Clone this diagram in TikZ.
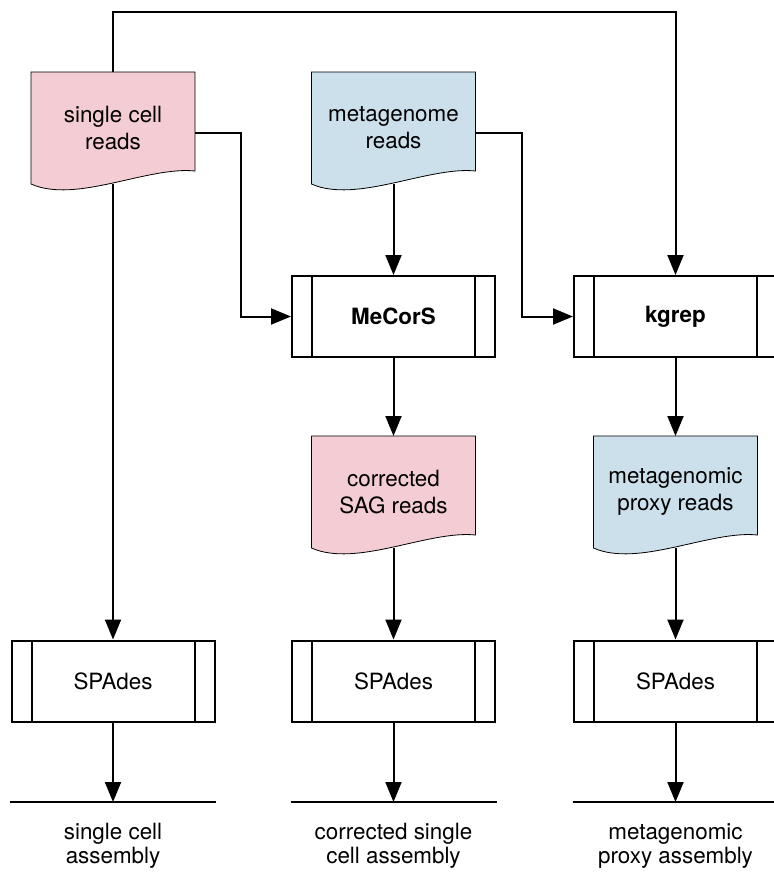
\documentclass[tikz,border=0pt]{standalone}
\usepackage{fontspec}
\setmainfont{TeX Gyre Heros}
\usetikzlibrary{arrows.meta,calc,backgrounds}
\definecolor{readpink}{RGB}{244,205,212}
\definecolor{readblue}{RGB}{204,224,236}
\tikzset{
  doc/.style={minimum width=81pt, minimum height=55pt, inner sep=0pt, align=center,
    font=\fontsize{11.2}{13.5}\selectfont},
  proc/.style={draw, fill=white, minimum width=101.5pt, minimum height=40.5pt, inner sep=0pt,
    font=\fontsize{11.2}{13.5}\selectfont,
    path picture={
      \draw ([xshift=10pt]path picture bounding box.north west) -- ([xshift=10pt]path picture bounding box.south west);
      \draw ([xshift=-10pt]path picture bounding box.north east) -- ([xshift=-10pt]path picture bounding box.south east);
    }},
  outline/.style={minimum width=102pt, minimum height=0pt, inner sep=0pt},
  outlab/.style={align=center, font=\fontsize{11.2}{12}\selectfont},
}
% wavy document outline behind a doc node
\newcommand{\docbody}[2]{%
  \begin{scope}[on background layer]
    \draw[fill=#2] (#1.north west) -- (#1.north east) -- ([yshift=6.5pt]#1.south east)
      .. controls ([xshift=-23.5pt,yshift=9pt]#1.south east) and ([xshift=22.5pt,yshift=-10pt]#1.south west) .. (#1.south west) -- cycle;
  \end{scope}}
\begin{document}
\begin{tikzpicture}[x=0.5pt,y=-0.5pt,line width=1pt,>={Triangle[length=10pt,width=8pt]}]
  \useasboundingbox (0,0) rectangle (773,880);
  % reads
  \node[doc] (reads1) at (113,128) {single cell\\reads}; \docbody{reads1}{readpink}
  \node[doc] (reads2) at (393.5,128) {metagenome\\reads}; \docbody{reads2}{readblue}
  % tools
  \node[proc] (mecors) at (393.5,316.5) {\bfseries MeCorS};
  \node[proc] (kgrep) at (675.5,316.5) {\bfseries kgrep};
  \node[doc] (corr) at (393.5,492) {corrected\\SAG reads}; \docbody{corr}{readpink}
  \node[doc] (proxy) at (675.5,492) {metagenomic\\proxy reads}; \docbody{proxy}{readblue}
  \node[proc] (spades1) at (113,681) {SPAdes};
  \node[proc] (spades2) at (393.5,681) {SPAdes};
  \node[proc] (spades3) at (675.5,681) {SPAdes};
  % assemblies
  \node[outline] (out1) at (113,802) {};
  \node[outline] (out2) at (393.5,802) {};
  \node[outline] (out3) at (675.5,802) {};
  \foreach \i in {1,2,3} \draw (out\i.west) -- (out\i.east);
  \node[outlab] (asm1) at (113,846) {single cell\\assembly};
  \node[outlab] (asm2) at (393.5,846) {corrected single\\cell assembly};
  \node[outlab] (asm3) at (675.5,846) {metagenomic\\proxy assembly};
  % flow
  \draw[->] (reads1.north) -- ++(0,-60) -| (kgrep.north);
  \draw[->] ([yshift=-2.5pt]reads1.east) -| ($(mecors.west)+(-50,0)$) -- (mecors.west);
  \draw[->] ([yshift=-2.5pt]reads2.east) -| ($(kgrep.west)+(-51,0)$) -- (kgrep.west);
  \draw[->] (reads1.south) -- (spades1.north);
  \draw[->] (reads2.south) -- (mecors.north);
  \draw[->] (mecors.south) -- (corr.north);
  \draw[->] (kgrep.south) -- (proxy.north);
  \draw[->] (corr.south) -- (spades2.north);
  \draw[->] (proxy.south) -- (spades3.north);
  \foreach \i in {1,2,3} \draw[->] (spades\i.south) -- (out\i.center);
\end{tikzpicture}
\end{document}
